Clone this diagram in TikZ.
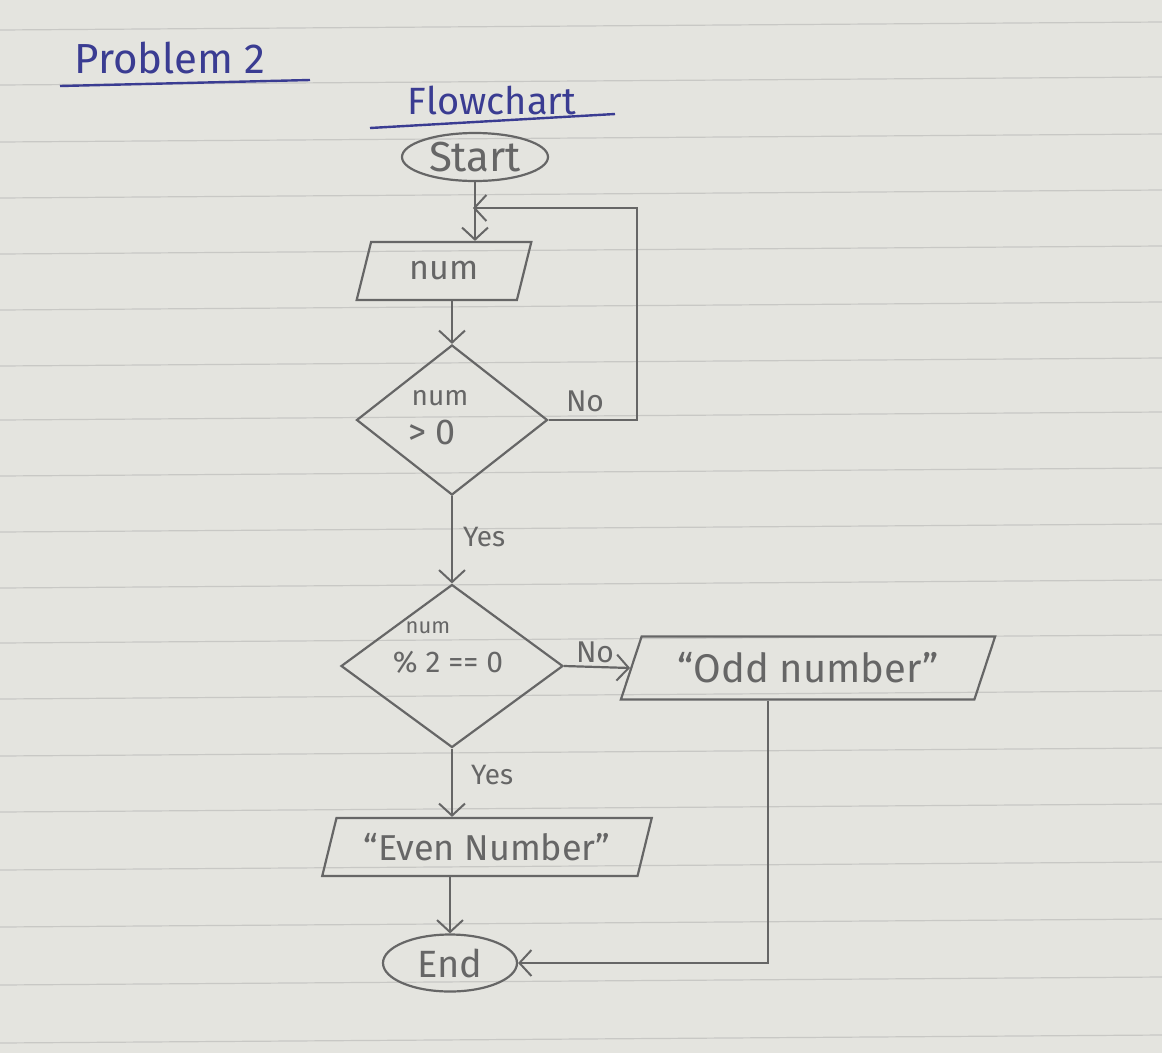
\documentclass[tikz,border=0pt]{standalone}
\usepackage{fontspec}
\setmainfont{Fira Sans}
\usetikzlibrary{shapes.geometric,arrows.meta}
\definecolor{paper}{HTML}{E4E4DF}
\definecolor{ruled}{HTML}{C8C8C5}
\definecolor{pencil}{HTML}{666666}
\definecolor{ink}{HTML}{3A3C92}
\begin{document}
\begin{tikzpicture}[x=1pt,y=-1pt,
  pen/.style={draw=pencil, line width=2.2pt},
  term/.style={pen, ellipse, inner sep=0pt, text=pencil},
  io/.style={pen, trapezium, trapezium stretches=true, inner sep=0pt, text=pencil},
  dec/.style={pen, diamond, inner sep=0pt},
  arr/.style={pen, -{Straight Barb[length=12pt,width=26pt,line width=2pt]}},
  txt/.style={text=pencil, inner sep=1pt},
  title/.style={text=ink, inner sep=0pt, font=\fontsize{42}{44}\selectfont}]
\useasboundingbox[fill=paper] (0,0) rectangle (1162,1053);
% ruled lines of the notebook
\foreach \y in {30,85,142,198,254,310,366,420,476,532,588,643,699,756,812,870,927,985,1043}
  \draw[ruled, line width=1.2pt] (0,\y) -- (1162,\y-8);
% titles
\node[title] (prob) at (170,58) {Problem 2};
\draw[ink, line width=2.4pt] (60,86) -- (310,80);
\node[title, font=\fontsize{38}{40}\selectfont] (fc) at (492,100) {Flowchart};
\draw[ink, line width=2.4pt] (370,128) -- (615,114);
% nodes
\node[term, minimum width=146pt, minimum height=48pt, font=\fontsize{42}{44}\selectfont] (start) at (475,157) {Start};
\node[io, trapezium left angle=70, trapezium right angle=110, minimum width=175pt, minimum height=58pt, font=\fontsize{34}{36}\selectfont] (num) at (444,271) {num};
\node[dec, minimum width=191pt, minimum height=150pt] (d1) at (452,420) {};
\node[txt, font=\fontsize{28}{30}\selectfont] (d1a) at (440,398) {num};
\node[txt, font=\fontsize{36}{38}\selectfont] (d1b) at (432,432) {> 0};
\node[dec, minimum width=222pt, minimum height=163pt] (d2) at (452,666) {};
\node[txt, font=\fontsize{22}{24}\selectfont] (d2a) at (428,628) {num};
\node[txt, font=\fontsize{30}{32}\selectfont] (d2b) at (448,662) {\% 2 == 0};
\node[io, trapezium left angle=62, trapezium right angle=118, minimum width=375pt, minimum height=63pt, font=\fontsize{40}{42}\selectfont] (odd) at (808,668) {“Odd number”};
\node[io, trapezium left angle=67, trapezium right angle=113, minimum width=330pt, minimum height=58pt, font=\fontsize{36}{38}\selectfont] (even) at (487,847) {“Even Number”};
\node[term, minimum width=134pt, minimum height=57pt, font=\fontsize{38}{40}\selectfont] (end) at (450,963) {End};
% connectors
\coordinate (loopin) at (473,208);
\draw[arr] (start.south) -- (start.south |- num.north);
\draw[arr] (d1.north |- num.south) -- (d1.north);
\draw[arr] (d1.east) -- ++(88,0) coordinate (lc) |- (loopin);
\node[txt, font=\fontsize{30}{32}\selectfont, anchor=south] (no1) at (585,413) {No};
\draw[arr] (d1.south) -- (d2.north);
\node[txt, font=\fontsize{28}{30}\selectfont, anchor=west] (yes1) at (462,537) {Yes};
\draw[arr] (d2.east) -- (odd.west);
\node[txt, font=\fontsize{30}{32}\selectfont, anchor=south] (no2) at (595,664) {No};
\draw[arr] (d2.south) -- (d2.south |- even.north);
\node[txt, font=\fontsize{28}{30}\selectfont, anchor=west] (yes2) at (470,775) {Yes};
\draw[arr] (end.north |- even.south) -- (end.north);
\draw[arr] ([xshift=-40pt]odd.south) |- (end.east);
\end{tikzpicture}
\end{document}
